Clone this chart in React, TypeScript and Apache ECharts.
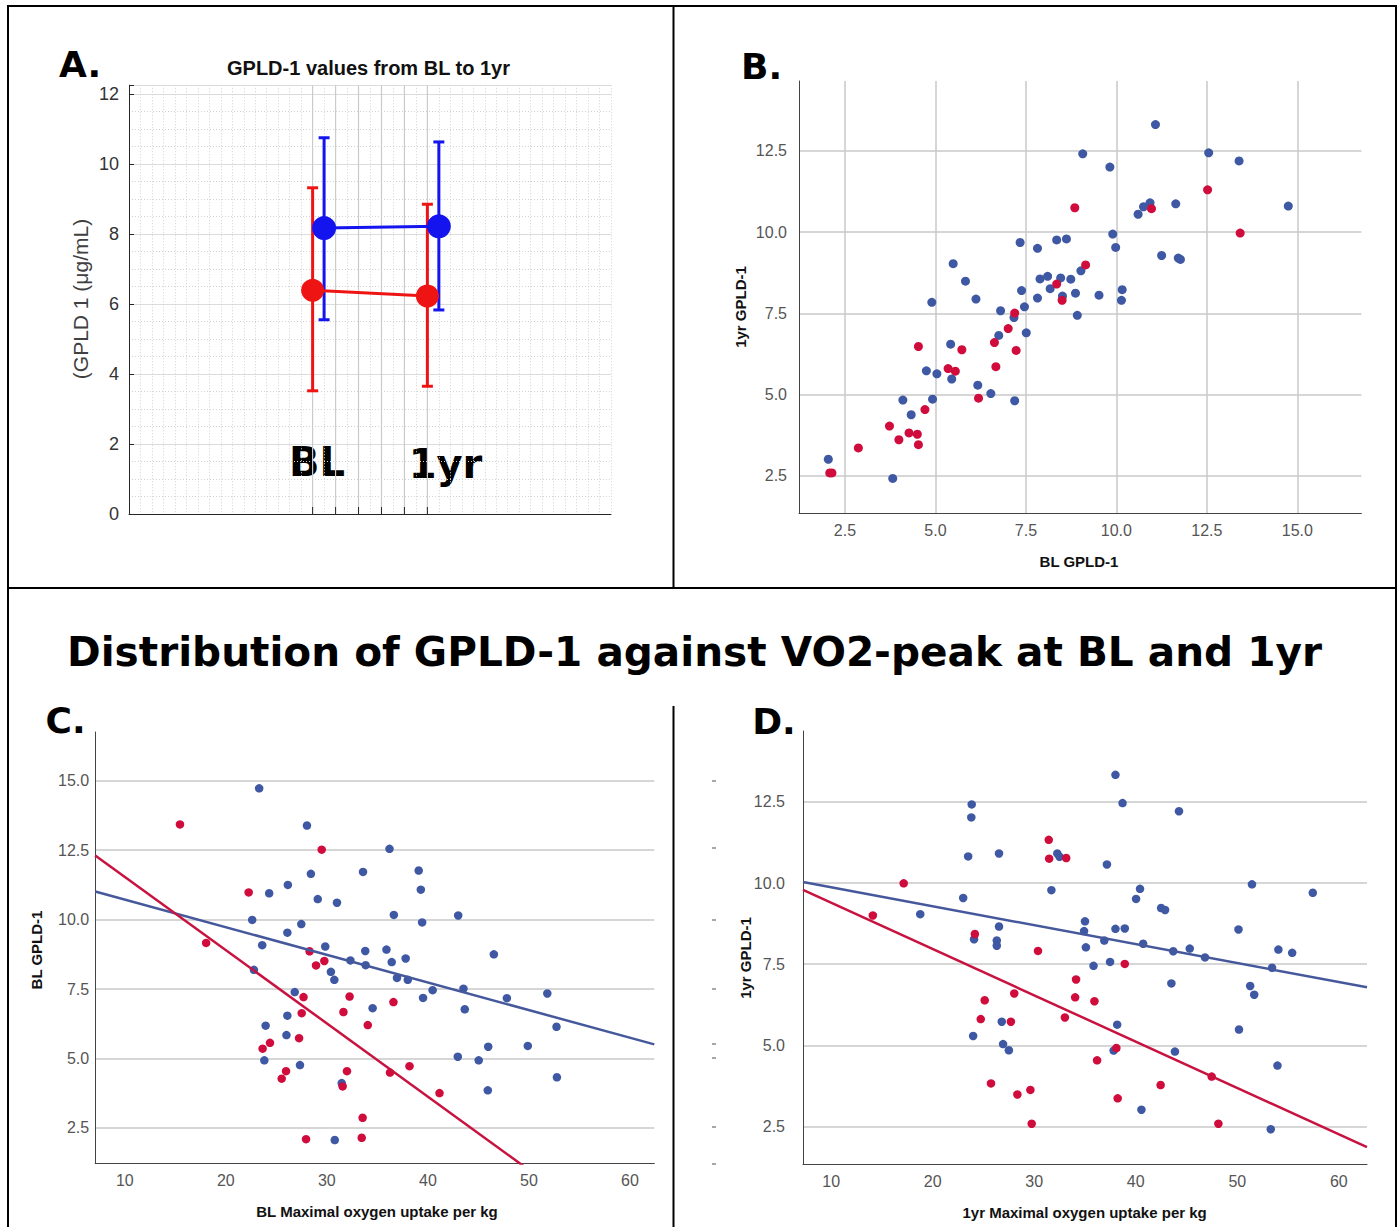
import React, { useEffect, useRef } from "react";
import * as echarts from "echarts";

// ---------------- Panel A (means with error bars) ----------------
const aTimes = [1, 2];
const aBlueOffset = 0.1;
const aRedMean = [6.39, 6.23];
const aRedLow = [3.52, 3.65];
const aRedHigh = [9.32, 8.85];
const aBlueMean = [8.17, 8.22];
const aBlueLow = [5.55, 5.83];
const aBlueHigh = [10.75, 10.63];
const aXTicks = [1, 1.2, 1.4, 1.6, 1.8, 2];
const aCatLabels = ["BL", "1yr"];

// ---------------- Panel B (BL vs 1yr GPLD-1) ----------------
const bBlue: number[][] = [
  [2.04, 3.01], [3.82, 2.42], [4.1, 4.83], [4.33, 4.38], [4.92, 4.86], [4.75, 5.73], [5.04, 5.64],
  [5.45, 5.48], [5.42, 6.55], [6.17, 5.29], [6.53, 5.03], [7.19, 4.81], [4.9, 7.84], [5.49, 9.03],
  [5.83, 8.49], [6.12, 7.94], [6.75, 6.82], [6.8, 7.58], [7.17, 7.37], [7.51, 6.9], [7.46, 7.7],
  [7.34, 9.68], [7.38, 8.2], [7.82, 9.5], [7.82, 7.97], [7.89, 8.56], [8.1, 8.64], [8.17, 8.26],
  [8.35, 9.76], [8.62, 9.79], [8.46, 8.59], [8.51, 8.03], [8.74, 8.55], [8.87, 8.12], [8.92, 7.44],
  [9.02, 8.81], [9.07, 12.41], [9.52, 8.06], [9.82, 12.0], [9.9, 9.94], [9.98, 9.53], [10.16, 8.23],
  [10.14, 7.9], [10.6, 10.55], [10.75, 10.78], [10.93, 10.9], [11.08, 13.31], [11.25, 9.28],
  [11.64, 10.87], [11.71, 9.2], [11.77, 9.16], [12.55, 12.44], [13.39, 12.19], [14.75, 10.8],
];
const bRed: number[][] = [
  [2.08, 2.59], [2.14, 2.59], [2.87, 3.36], [3.73, 4.03], [3.99, 3.61], [4.27, 3.82], [4.5, 3.78],
  [4.53, 3.46], [4.71, 4.54], [4.53, 6.48], [5.35, 5.8], [5.55, 5.72], [5.73, 6.38], [6.19, 4.89],
  [6.63, 6.6], [6.67, 5.86], [7.01, 7.03], [7.19, 7.51], [7.23, 6.36], [8.35, 8.4], [8.5, 7.9],
  [8.85, 10.75], [9.15, 8.99], [10.97, 10.72], [12.52, 11.3], [13.42, 9.97],
];
const bXTicks = [2.5, 5, 7.5, 10, 12.5, 15];
const bYTicks = [2.5, 5, 7.5, 10, 12.5];

// ---------------- Panel C (BL VO2 vs BL GPLD-1) ----------------
const cBlue: number[][] = [
  [23.3, 14.73], [28.03, 13.39], [36.2, 12.55], [33.58, 11.72], [28.42, 11.65], [39.09, 11.77],
  [39.3, 11.08], [26.14, 11.25], [24.29, 10.95], [29.1, 10.74], [31.0, 10.61], [22.61, 9.99],
  [36.63, 10.17], [43.0, 10.15], [39.43, 9.9], [27.47, 9.84], [26.09, 9.53], [23.6, 9.08],
  [29.84, 9.03], [33.8, 8.87], [35.9, 8.92], [46.53, 8.75], [37.8, 8.6], [36.42, 8.47],
  [32.33, 8.53], [33.84, 8.36], [22.78, 8.19], [30.4, 8.12], [30.74, 7.83], [36.94, 7.9],
  [38.01, 7.83], [40.47, 7.46], [43.52, 7.51], [39.52, 7.18], [47.82, 7.17], [51.82, 7.34],
  [26.82, 7.39], [34.53, 6.81], [43.65, 6.77], [52.73, 6.14], [26.09, 6.54], [23.94, 6.18],
  [26.0, 5.84], [45.97, 5.42], [49.89, 5.45], [42.96, 5.06], [45.03, 4.93], [23.81, 4.93],
  [27.34, 4.76], [52.77, 4.32], [45.93, 3.85], [31.47, 4.11], [30.78, 2.06],
];
const cRed: number[][] = [
  [15.46, 13.43], [29.49, 12.52], [22.26, 10.98], [18.05, 9.16], [28.29, 8.86], [29.75, 8.51],
  [28.93, 8.35], [27.69, 7.21], [32.25, 7.23], [36.59, 7.03], [31.64, 6.67], [27.51, 6.63],
  [34.05, 6.2], [27.25, 5.73], [24.37, 5.56], [23.64, 5.35], [38.18, 4.72], [36.25, 4.49],
  [25.96, 4.54], [31.99, 4.54], [25.53, 4.27], [31.56, 3.99], [41.15, 3.75], [33.54, 2.86],
  [33.45, 2.14], [27.94, 2.09],
];
const cFitBlue = [11.72, -0.0996]; // intercept, slope
const cFitRed = [14.18, -0.264];
const cXTicks = [10, 20, 30, 40, 50, 60];
const cYTicks = [2.5, 5, 7.5, 10, 12.5, 15];

// ---------------- Panel D (1yr VO2 vs 1yr GPLD-1) ----------------
const dBlue: number[][] = [
  [38.0, 13.33], [23.84, 12.42], [38.7, 12.46], [23.8, 12.02], [44.26, 12.21], [23.49, 10.82],
  [26.53, 10.91], [32.27, 10.91], [32.49, 10.81], [37.16, 10.57], [51.45, 9.96], [57.44, 9.7],
  [40.42, 9.82], [40.03, 9.51], [31.69, 9.78], [23.0, 9.54], [42.5, 9.23], [42.89, 9.17],
  [18.77, 9.04], [26.53, 8.66], [35.0, 8.82], [34.91, 8.52], [38.0, 8.59], [38.92, 8.6],
  [50.12, 8.57], [24.07, 8.27], [26.31, 8.23], [26.31, 8.07], [36.9, 8.23], [40.73, 8.13],
  [35.09, 8.02], [43.69, 7.9], [45.32, 7.98], [54.05, 7.95], [55.41, 7.85], [46.82, 7.71],
  [53.43, 7.39], [37.47, 7.57], [35.84, 7.45], [43.51, 6.91], [51.27, 6.83], [51.67, 6.56],
  [26.8, 5.73], [38.17, 5.64], [50.17, 5.49], [23.98, 5.29], [26.93, 5.04], [27.5, 4.85],
  [37.82, 4.84], [43.86, 4.81], [53.96, 4.38], [40.56, 3.02], [53.3, 2.42],
];
const dRed: number[][] = [
  [31.43, 11.33], [31.47, 10.75], [33.15, 10.77], [17.14, 9.99], [14.1, 9.0], [24.15, 8.43],
  [30.37, 7.91], [38.92, 7.51], [34.12, 7.03], [28.03, 6.6], [34.03, 6.48], [25.12, 6.39],
  [35.93, 6.36], [33.02, 5.86], [24.73, 5.81], [27.7, 5.73], [38.09, 4.92], [36.19, 4.54],
  [47.48, 4.04], [25.74, 3.83], [42.45, 3.78], [29.62, 3.63], [28.34, 3.49], [38.22, 3.37],
  [29.75, 2.59], [48.14, 2.59],
];
const dFitBlue = [10.45, -0.0583];
const dFitRed = [10.82, -0.1426];
const dXTicks = [10, 20, 30, 40, 50, 60];
const dYTicks = [2.5, 5, 7.5, 10, 12.5];

// ---------------- styling constants ----------------
const RED_A = "#ee1414";
const BLUE_A = "#1414ee";
const SPSS_BLUE = "#3f58a3";
const SPSS_RED = "#cf0c3c";
const FIT_BLUE = "#46589c";
const FIT_RED = "#c8123f";
const GRID_GRAY = "#c9c9c9";
const SANS = "'Liberation Sans', Arial, sans-serif";
const VERD = "'DejaVu Sans', Verdana, sans-serif";
// small leftover dash marks at the left edge of panel D (decoration)
const DECOR_DASH_Y = [781, 848, 920, 989, 1044, 1058, 1127, 1164];

const ranges = {
  aX: [-0.6, 3.6], aY: [0, 12.25],
  bX: [1.23, 16.77], bY: [1.35, 14.65],
  cX: [7.07, 62.41], cY: [1.21, 16.76],
  dX: [7.22, 62.78], dY: [1.34, 14.68],
};

function txt(text: string, x: number, y: number, size: number, weight: string, family: string, fill: string, rotate = false) {
  return {
    type: "text",
    x, y,
    rotation: rotate ? Math.PI / 2 : 0,
    silent: true,
    style: {
      text, fill, fontSize: size, fontWeight: weight, fontFamily: family,
      align: "center", verticalAlign: "middle",
      textAlign: "center", textVerticalAlign: "middle",
    },
  };
}

function ln(x1: number, y1: number, x2: number, y2: number, w = 2, c = "#000") {
  return { type: "line", silent: true, shape: { x1, y1, x2, y2 }, style: { stroke: c, lineWidth: w } };
}

function spssY(idx: number, r: number[], ticks: number[], margin: number) {
  return {
    type: "value", gridIndex: idx, min: r[0], max: r[1],
    axisLine: { show: true, onZero: false, lineStyle: { color: "#444", width: 1 } },
    axisTick: { show: false, customValues: ticks },
    axisLabel: { customValues: ticks, formatter: (v: number) => v.toFixed(1), color: "#555", fontSize: 16, fontFamily: SANS, margin },
    splitLine: { show: true, lineStyle: { color: GRID_GRAY, width: 1.5 } },
  };
}
function spssX(idx: number, r: number[], ticks: number[], fmt: (v: number) => string, split: boolean) {
  return {
    type: "value", gridIndex: idx, min: r[0], max: r[1],
    axisLine: { show: true, onZero: false, lineStyle: { color: "#444", width: 1 } },
    axisTick: { show: false, customValues: ticks },
    axisLabel: { customValues: ticks, formatter: fmt, color: "#555", fontSize: 16, fontFamily: SANS, margin: 9 },
    splitLine: { show: split, lineStyle: { color: GRID_GRAY, width: 1.5 } },
  };
}

function errorBars(values: number[][], color: string) {
  return {
    type: "custom", xAxisIndex: 0, yAxisIndex: 0, silent: true,
    data: values, encode: { x: 0, y: [1, 2] },
    renderItem: (_p: any, api: any) => {
      const x = api.value(0);
      const lo = api.coord([x, api.value(1)]);
      const hi = api.coord([x, api.value(2)]);
      const cap = 5.5;
      const st = { stroke: color, lineWidth: 3 };
      return {
        type: "group",
        children: [
          { type: "line", shape: { x1: lo[0], y1: lo[1], x2: hi[0], y2: hi[1] }, style: st },
          { type: "line", shape: { x1: lo[0] - cap, y1: lo[1], x2: lo[0] + cap, y2: lo[1] }, style: st },
          { type: "line", shape: { x1: hi[0] - cap, y1: hi[1], x2: hi[0] + cap, y2: hi[1] }, style: st },
        ],
      };
    },
  };
}

function fitLine(idx: number, fit: number[], xr: number[], color: string) {
  return {
    type: "line", xAxisIndex: idx, yAxisIndex: idx, silent: true, clip: true, z: 3,
    symbol: "none", data: xr.map((x) => [x, fit[0] + fit[1] * x]),
    lineStyle: { color, width: 2.5 },
  };
}

function scatter(idx: number, data: number[][], color: string, size: number) {
  return {
    type: "scatter", xAxisIndex: idx, yAxisIndex: idx, data, symbolSize: size,
    itemStyle: { color, opacity: 1 }, silent: true, z: 2,
  };
}

export default function App() {
  const ref = useRef<HTMLDivElement>(null);
  useEffect(() => {
    if (!ref.current) return;
    const chart = echarts.init(ref.current, undefined, { renderer: "svg" });

    const aRed = aTimes.map((t, i) => [t, aRedMean[i]]);
    const aBlue = aTimes.map((t, i) => [t + aBlueOffset, aBlueMean[i]]);
    const aRedErr = aTimes.map((t, i) => [t, aRedLow[i], aRedHigh[i]]);
    const aBlueErr = aTimes.map((t, i) => [t + aBlueOffset, aBlueLow[i], aBlueHigh[i]]);

    const option: any = {
      animation: false,
      backgroundColor: "#ffffff",
      grid: [
        { left: 129, top: 85.25, width: 482, height: 428.75 },
        { left: 799, top: 81, width: 562.4, height: 432.2 },
        { left: 95.2, top: 732, width: 559.1, height: 431.6 },
        { left: 803, top: 731, width: 564, height: 433.3 },
      ],
      xAxis: [
        {
          type: "value", gridIndex: 0, min: ranges.aX[0], max: ranges.aX[1], interval: 0.2,
          axisLine: { show: true, onZero: false, lineStyle: { color: "#262626", width: 1 } },
          axisTick: { show: false }, axisLabel: { show: false },
          splitLine: { show: true, lineStyle: { color: "#d2d2d2", width: 1, type: [1, 2] } },
          minorTick: { show: false, splitNumber: 2 },
          minorSplitLine: { show: true, lineStyle: { color: "#d2d2d2", width: 1, type: [1, 2] } },
        },
        spssX(1, ranges.bX, bXTicks, (v: number) => v.toFixed(1), true),
        spssX(2, ranges.cX, cXTicks, (v: number) => String(v), false),
        spssX(3, ranges.dX, dXTicks, (v: number) => String(v), false),
      ],
      yAxis: [
        {
          type: "value", gridIndex: 0, min: ranges.aY[0], max: ranges.aY[1], interval: 2,
          axisLine: { show: true, onZero: false, lineStyle: { color: "#262626", width: 1 } },
          axisTick: { show: true, inside: true, length: 5, lineStyle: { color: "#262626" } },
          axisLabel: {
            formatter: (v: number) => (Math.abs(v / 2 - Math.round(v / 2)) < 1e-6 ? String(v) : ""),
            color: "#333", fontSize: 18, fontFamily: SANS, margin: 10,
          },
          splitLine: { show: true, lineStyle: { color: "#dcdcdc", width: 1.2 } },
          minorTick: { show: false, splitNumber: 4 },
          minorSplitLine: { show: true, lineStyle: { color: "#d2d2d2", width: 1, type: [1, 2] } },
        },
        spssY(1, ranges.bY, bYTicks, 12),
        spssY(2, ranges.cY, cYTicks, 6),
        spssY(3, ranges.dY, dYTicks, 18),
      ],
      series: [
        {
          type: "custom", xAxisIndex: 0, yAxisIndex: 0, silent: true, z: 1,
          data: aXTicks.map((v) => [v, 0]), encode: { x: 0, y: 1 },
          renderItem: (params: any, api: any) => {
            const cs = params.coordSys;
            const x = api.coord([api.value(0), 0])[0];
            return {
              type: "group",
              children: [
                { type: "line", shape: { x1: x, y1: cs.y, x2: x, y2: cs.y + cs.height }, style: { stroke: "#cbcbcb", lineWidth: 1.2 } },
                { type: "line", shape: { x1: x, y1: cs.y + cs.height, x2: x, y2: cs.y + cs.height - 7 }, style: { stroke: "#262626", lineWidth: 1 } },
              ],
            };
          },
        },
        errorBars(aRedErr, RED_A),
        {
          type: "line", xAxisIndex: 0, yAxisIndex: 0, data: aRed, symbol: "circle", symbolSize: 23,
          lineStyle: { color: RED_A, width: 3 }, itemStyle: { color: RED_A }, silent: true,
        },
        errorBars(aBlueErr, BLUE_A),
        {
          type: "line", xAxisIndex: 0, yAxisIndex: 0, data: aBlue, symbol: "circle", symbolSize: 24,
          lineStyle: { color: BLUE_A, width: 3 }, itemStyle: { color: BLUE_A }, silent: true,
        },
        scatter(1, bBlue, SPSS_BLUE, 9),
        scatter(1, bRed, SPSS_RED, 9),
        scatter(2, cBlue, SPSS_BLUE, 8.5),
        scatter(2, cRed, SPSS_RED, 8.5),
        fitLine(2, cFitBlue, ranges.cX, FIT_BLUE),
        fitLine(2, cFitRed, ranges.cX, FIT_RED),
        scatter(3, dBlue, SPSS_BLUE, 8.5),
        scatter(3, dRed, SPSS_RED, 8.5),
        fitLine(3, dFitBlue, ranges.dX, FIT_BLUE),
        fitLine(3, dFitRed, ranges.dX, FIT_RED),
      ],
      graphic: {
        elements: [
          // frame
          ln(8, 6, 1396, 6),
          ln(8, 5, 8, 1227),
          ln(1396, 5, 1396, 1227),
          ln(8, 588, 1396, 588),
          ln(673.5, 6, 673.5, 588),
          ln(673.5, 706, 673.5, 1227),
          ...DECOR_DASH_Y.map((y) => ln(712, y, 716, y, 1.5, "#8a8a8a")),
          // panel A texts
          txt("A.", 80, 64, 36, "bold", VERD, "#000"),
          txt("GPLD-1 values from BL to 1yr", 368.5, 68, 20, "bold", SANS, "#111"),
          txt("(GPLD 1 (μg/mL)", 80, 299, 21, "normal", SANS, "#404040", true),
          txt(aCatLabels[0], 317, 462, 40, "bold", VERD, "#000"),
          txt(aCatLabels[1], 445.5, 464, 40, "bold", VERD, "#000"),
          // panel B texts
          txt("B.", 761.5, 66, 36, "bold", VERD, "#000"),
          txt("BL GPLD-1", 1079, 561, 15, "bold", SANS, "#111"),
          txt("1yr GPLD-1", 740, 307, 15, "bold", SANS, "#111", true),
          // bottom title
          txt("Distribution of GPLD-1 against VO2-peak at BL and 1yr", 694.5, 652, 40.6, "bold", VERD, "#000"),
          // panel C texts
          txt("C.", 65.6, 720, 36, "bold", VERD, "#000"),
          txt("BL Maximal oxygen uptake per kg", 377, 1211, 15, "bold", SANS, "#111"),
          txt("BL GPLD-1", 36, 950, 15, "bold", SANS, "#111", true),
          // panel D texts
          txt("D.", 774, 721.5, 36, "bold", VERD, "#000"),
          txt("1yr Maximal oxygen uptake per kg", 1084.6, 1212, 15, "bold", SANS, "#111"),
          txt("1yr GPLD-1", 745, 958, 15, "bold", SANS, "#111", true),
        ],
      },
    };
    chart.setOption(option);
    return () => chart.dispose();
  }, []);

  return (
    <div
      ref={ref}
      style={{ position: "absolute", left: 0, top: 0, width: 1400, height: 1227, background: "#fff" }}
    />
  );
}
